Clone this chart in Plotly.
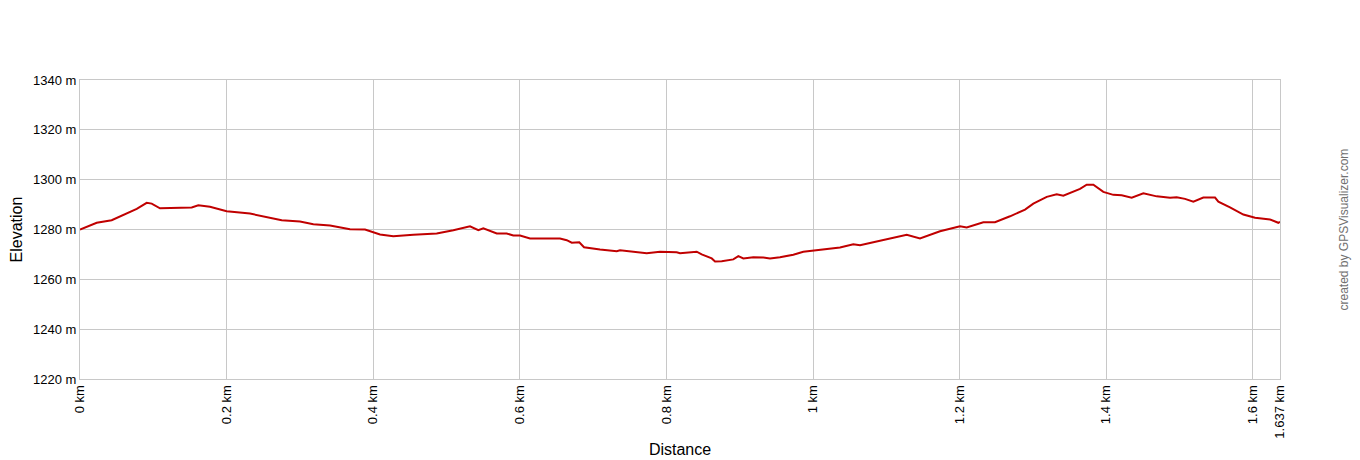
import plotly.graph_objects as go

# elevation profile
distance_km = [0.000, 0.0228, 0.0432, 0.0774, 0.0910, 0.0978, 0.1091, 0.1524, 0.1614, 0.1773,
               0.2001, 0.2319, 0.2752, 0.3001, 0.3183, 0.3411, 0.3683, 0.3888, 0.4093, 0.4274,
               0.4547, 0.4866, 0.5093, 0.5320, 0.5434, 0.5502, 0.5685, 0.5821, 0.5911, 0.6003,
               0.6139, 0.6548, 0.6640, 0.6708, 0.6811, 0.6876, 0.7094, 0.7322, 0.7367, 0.7548,
               0.7731, 0.7912, 0.8140, 0.8185, 0.8322, 0.8413, 0.8481, 0.8618, 0.8663, 0.8754,
               0.8912, 0.8981, 0.9049, 0.9185, 0.9322, 0.9413, 0.9549, 0.9731, 0.9867, 1.0004,
               1.0186, 1.0368, 1.0549, 1.0641, 1.0822, 1.1005, 1.1141, 1.1278, 1.1459, 1.1732,
               1.2005, 1.2096, 1.2323, 1.2482, 1.2687, 1.2892, 1.3005, 1.3188, 1.3324, 1.3414,
               1.3642, 1.3733, 1.3824, 1.3960, 1.4096, 1.4211, 1.4347, 1.4506, 1.4688, 1.4870,
               1.4961, 1.5074, 1.5188, 1.5324, 1.5484, 1.5529, 1.5688, 1.5870, 1.6030, 1.6234,
               1.6347, 1.6370]
elevation_m = [1280.0, 1282.7, 1283.7, 1288.3, 1290.7, 1290.4, 1288.5, 1288.8, 1289.7, 1289.1,
               1287.3, 1286.4, 1283.7, 1283.2, 1282.1, 1281.6, 1280.1, 1280.0, 1278.0, 1277.3,
               1277.9, 1278.4, 1279.7, 1281.3, 1279.7, 1280.5, 1278.4, 1278.4, 1277.6, 1277.6,
               1276.4, 1276.4, 1275.7, 1274.7, 1274.9, 1272.9, 1272.0, 1271.3, 1271.7, 1271.1,
               1270.5, 1271.1, 1270.9, 1270.5, 1270.7, 1271.1, 1270.0, 1268.4, 1267.2, 1267.3,
               1268.0, 1269.3, 1268.4, 1268.9, 1268.8, 1268.4, 1268.9, 1269.9, 1271.1, 1271.5,
               1272.0, 1272.8, 1274.1, 1273.7, 1274.9, 1276.0, 1277.1, 1277.9, 1276.4, 1279.3,
               1281.3, 1280.8, 1282.9, 1282.9, 1285.3, 1288.0, 1290.4, 1293.1, 1294.1, 1293.6,
               1296.3, 1298.0, 1298.0, 1295.1, 1293.9, 1293.7, 1292.8, 1294.5, 1293.3, 1292.7,
               1292.9, 1292.3, 1291.2, 1292.8, 1292.8, 1291.2, 1288.9, 1286.0, 1284.7, 1284.0,
               1282.7, 1283.1]

x_ticks = [0, 0.2, 0.4, 0.6, 0.8, 1.0, 1.2, 1.4, 1.6, 1.637]
x_labels = ["0 km", "0.2 km", "0.4 km", "0.6 km", "0.8 km", "1 km", "1.2 km", "1.4 km", "1.6 km", "1.637 km"]
y_ticks = [1220, 1240, 1260, 1280, 1300, 1320, 1340]
y_labels = [f"{v} m" for v in y_ticks]

fig = go.Figure()
fig.add_trace(go.Scatter(
    x=distance_km, y=elevation_m, mode="lines",
    line=dict(color="#c00000", width=2),
    hovertemplate="%{x:.3f} km<br>%{y} m<extra></extra>",
))

# the page body adds 8px, so margins are shifted to keep the plot box where the original is
fig.update_layout(
    width=1360, height=460,
    margin=dict(l=72, r=88, t=72, b=89),
    plot_bgcolor="white", paper_bgcolor="white",
    font=dict(family="Liberation Sans, Arial, sans-serif", size=13, color="black"),
    showlegend=False,
)
fig.update_xaxes(
    range=[0, 1.637], tickvals=x_ticks, ticktext=x_labels, tickangle=-90,
    showgrid=True, gridcolor="#c8c8c8", gridwidth=1, automargin=False,
    showline=True, linecolor="#c8c8c8", mirror=True, zeroline=False,
    title=dict(text="Distance", font=dict(size=16), standoff=6),
)
fig.update_yaxes(
    range=[1220, 1340], tickvals=y_ticks, ticktext=y_labels,
    showgrid=True, gridcolor="#c8c8c8", gridwidth=1, automargin=False,
    showline=True, linecolor="#c8c8c8", mirror=True, zeroline=False,
    title=dict(text="Elevation", font=dict(size=16), standoff=10),
)
# watermark; pushed as far right as the window shows without clipping
fig.add_annotation(
    text="created by GPSVisualizer.com", textangle=-90,
    xref="paper", yref="paper", x=1.0, y=0.5, xshift=72,
    showarrow=False, font=dict(size=12, color="#707070"),
)

fig.write_html("out.html")
